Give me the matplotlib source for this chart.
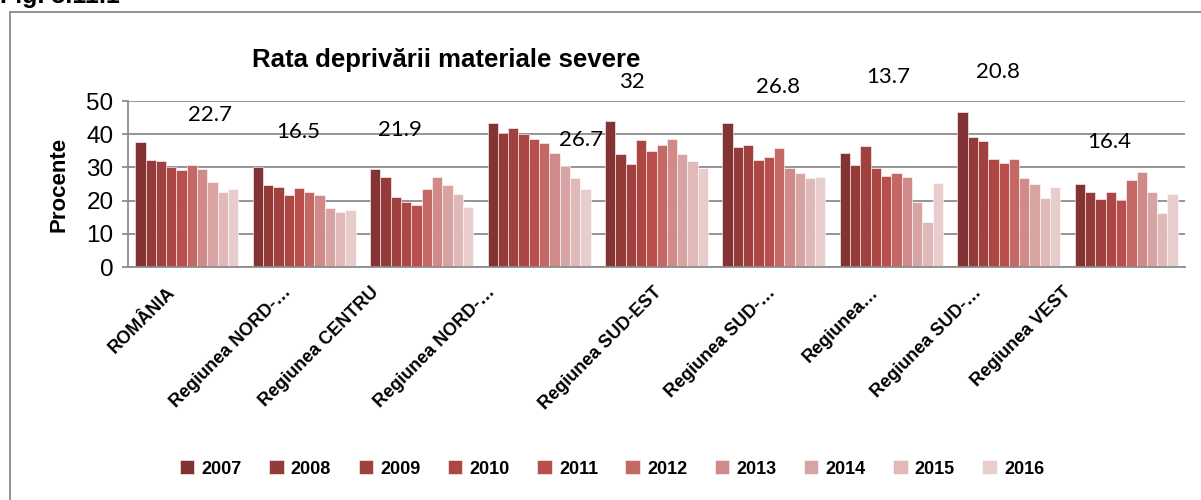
import matplotlib
matplotlib.use("Agg")
import matplotlib.pyplot as plt
from matplotlib.patches import Rectangle
import numpy as np

plt.rcParams["font.family"] = ["Liberation Sans", "DejaVu Sans"]

# Regiuni (etichete trunchiate ca în original)
regions = ["ROMÂNIA", "Regiunea NORD-…", "Regiunea CENTRU", "Regiunea NORD-…",
           "Regiunea SUD-EST", "Regiunea SUD-…", "Regiunea…", "Regiunea SUD-…",
           "Regiunea VEST"]
years = ["2007", "2008", "2009", "2010", "2011", "2012", "2013", "2014", "2015", "2016"]

# Rata deprivării materiale severe (%), câte o serie pe an
v2007 = [37.7, 30.2, 29.6, 43.5, 43.9, 43.5, 34.3, 46.6, 25.1]
v2008 = [32.3, 24.6, 27.0, 40.4, 34.1, 36.2, 30.7, 39.1, 22.6]
v2009 = [31.8, 24.0, 21.1, 41.8, 30.9, 36.6, 36.4, 38.0, 20.5]
v2010 = [30.2, 21.6, 19.5, 40.2, 38.3, 32.1, 29.9, 32.4, 22.6]
v2011 = [29.2, 23.8, 18.8, 38.5, 34.9, 33.0, 27.3, 31.4, 20.3]
v2012 = [30.8, 22.5, 23.4, 37.3, 36.6, 35.7, 28.4, 32.4, 26.3]
v2013 = [29.6, 21.6, 27.0, 34.3, 38.6, 29.8, 27.0, 26.8, 28.6]
v2014 = [25.6, 17.7, 24.7, 30.3, 34.1, 28.2, 19.5, 25.1, 22.6]
v2015 = [22.7, 16.5, 21.9, 26.7, 32.0, 26.8, 13.7, 20.8, 16.4]
v2016 = [23.5, 17.3, 18.2, 23.5, 29.8, 27.2, 25.4, 24.1, 21.9]
series = [v2007, v2008, v2009, v2010, v2011, v2012, v2013, v2014, v2015, v2016]

colors = ["#843335", "#943b3a", "#a1413f", "#ad4744", "#b94e4b",
          "#c46866", "#cf8a89", "#d8a4a3", "#e0b9b8", "#e8cdcd"]

# poziţiile (dezordonate, ca în Excel) ale etichetelor 2015: (x în unităţi de grup, y în %)
lab_pos = [(0.198, 45.8), (0.947, 40.6), (1.815, 41.3), (3.355, 38.4), (3.789, 55.6),
           (5.032, 54.1), (5.977, 57.2), (6.904, 58.6), (7.857, 37.5)]
# capătul din dreapta al etichetelor de pe axa X (unităţi de grup)
tick_end = [-0.168, 0.819, 1.560, 2.555, 3.968, 4.938, 5.815, 6.691, 7.457]

GRID = "#8c8c8c"

fig = plt.figure(figsize=(12.01, 5.0), dpi=100)
ax = fig.add_axes([128 / 1201, 1 - 267 / 500, (1185 - 128) / 1201, 166 / 500])

x = np.arange(len(regions))
w = 0.0877
for i, (vals, c, yr) in enumerate(zip(series, colors, years)):
    ax.bar(x + (i - 4.5) * w, vals, width=w, color=c, edgecolor="white",
           linewidth=0.4, label=yr, zorder=2)

ax.set_xlim(-0.5, len(regions) - 0.5)
ax.set_ylim(0, 50)
ax.set_yticks([0, 10, 20, 30, 40, 50])
ax.yaxis.grid(True, color=GRID, linewidth=1.3, zorder=0)
ax.set_axisbelow(True)
for s in ["top", "right"]:
    ax.spines[s].set_visible(False)
for s in ["left", "bottom"]:
    ax.spines[s].set_color(GRID)
    ax.spines[s].set_linewidth(1.3)
ax.tick_params(axis="y", colors=GRID, length=4.5, width=1.3, labelsize=17.5,
               labelcolor="black", pad=6)
ax.tick_params(axis="x", length=0)
ax.set_xticks([])

ax.set_ylabel("Procente", fontsize=16, fontweight="bold")
ax.yaxis.set_label_coords(-0.055, 0.5)

# etichetele de date (valorile 2015)
for (lx, ly), v in zip(lab_pos, v2015):
    ax.text(lx, ly, f"{v:g}", ha="center", va="center", fontsize=16,
            family=["Lato", "DejaVu Sans"], clip_on=False)

# etichetele regiunilor, rotite la 45°
for tx, name in zip(tick_end, regions):
    ax.text(tx, -0.1, name, transform=ax.get_xaxis_transform(), rotation=45,
            rotation_mode="anchor", ha="right", va="top", fontsize=13,
            fontweight="bold", clip_on=False)

fig.text(446 / 1201, 1 - 67 / 500, "Rata deprivării materiale severe", ha="center",
         va="baseline", fontsize=18.5, fontweight="bold")

fig.text(0.0, 1 - 3 / 500, "Fig. 3.11.1", ha="left", va="baseline",
         fontsize=18, fontweight="bold")

# cadrul graficului
fig.patches.append(Rectangle((10 / 1201, -0.2), 2.0, 1.2 - 12 / 500,
                             transform=fig.transFigure, fill=False,
                             edgecolor="#8a8a8a", linewidth=1.3))

ax.legend(loc="center", bbox_to_anchor=(612 / 1201, 1 - 469 / 500),
          bbox_transform=fig.transFigure, ncol=10, frameon=False,
          handlelength=0.8, handleheight=0.8, handletextpad=0.4,
          columnspacing=1.52, prop={"weight": "bold", "size": 13})

fig.savefig("out.png", dpi=100, facecolor="white")
